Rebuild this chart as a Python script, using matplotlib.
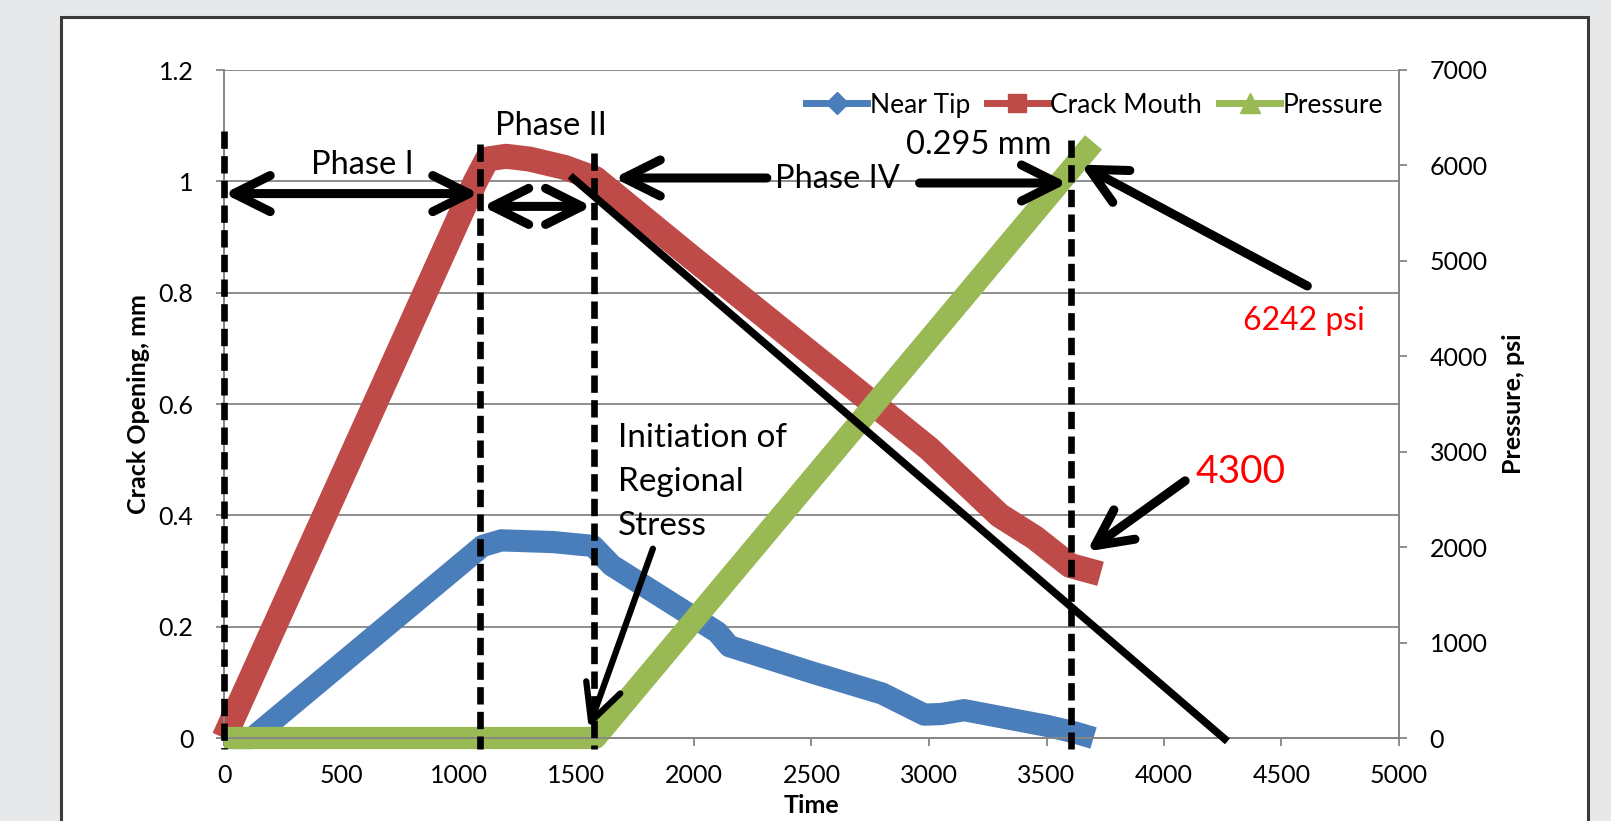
import matplotlib
matplotlib.use("Agg")
import numpy as np
from matplotlib import pyplot as plt
from matplotlib.patches import Rectangle

plt.rcParams["font.family"] = ["Lato", "DejaVu Sans"]

# data
time_tip = [0, 120, 1100, 1180, 1400, 1570, 1650, 2100, 2150, 2500, 2800, 2980, 3050, 3150, 3500, 3620, 3700]
near_tip = [0.0, 0.0, 0.345, 0.355, 0.352, 0.345, 0.31, 0.19, 0.165, 0.118, 0.08, 0.042, 0.043, 0.05, 0.022, 0.01, 0.0]

time_mouth = [0, 1070, 1120, 1200, 1300, 1450, 1580, 2000, 2500, 3000, 3300, 3450, 3600, 3730]
crack_mouth = [0.0, 1.0, 1.04, 1.045, 1.04, 1.025, 1.005, 0.86, 0.69, 0.52, 0.40, 0.36, 0.31, 0.295]

time_p = [0, 1580, 3700]
pressure = [0, 0, 6242]

phase_marks = [0, 1090, 1575, 3605]
phase_tops = [1.09, 1.067, 1.05, 1.075]

x_ticks = list(range(0, 5001, 500))
y_ticks = [0, 0.2, 0.4, 0.6, 0.8, 1.0, 1.2]
y_ticklabels = ["0", "0.2", "0.4", "0.6", "0.8", "1", "1.2"]
p_ticks = list(range(0, 7001, 1000))

BLUE = "#4a7ebb"
RED = "#be4b48"
GREEN = "#98b954"
GRID = "#868686"

fig = plt.figure(figsize=(16.11, 8.21), dpi=100, facecolor="#e7e8ea")
fig.patches.append(Rectangle((61 / 1611, -0.05), (1588 - 61) / 1611, 1.05 - 17 / 821,
                             transform=fig.transFigure, facecolor="white",
                             edgecolor="#3a3a3a", linewidth=2.2, zorder=-5))

ax = fig.add_axes([224 / 1611, 1 - 738 / 821, 1175 / 1611, 668 / 821])
ax.set_facecolor("none")
ax2 = ax.twinx()

lw = 16
l1, = ax.plot(time_tip, near_tip, color=BLUE, lw=lw, solid_capstyle="butt", solid_joinstyle="round", clip_on=False)
l2, = ax.plot(time_mouth, crack_mouth, color=RED, lw=lw + 2, solid_capstyle="butt", solid_joinstyle="round", clip_on=False)
l3, = ax2.plot(time_p, pressure, color=GREEN, lw=lw, solid_capstyle="butt", solid_joinstyle="round", clip_on=False)

ax.set_xlim(0, 5000)
ax.set_ylim(0, 1.2)
ax2.set_ylim(0, 7000)
ax.set_xticks(x_ticks)
ax.set_yticks(y_ticks)
ax.set_yticklabels(y_ticklabels)
ax2.set_yticks(p_ticks)

ax.grid(True, axis="y", color=GRID, lw=1.3)
ax.set_axisbelow(True)
for a in (ax, ax2):
    for s in a.spines.values():
        s.set_color(GRID)
        s.set_linewidth(1.3)
    a.spines["top"].set_visible(False)
ax.tick_params(axis="x", length=6, width=1.3, color=GRID, labelsize=18, pad=13)
ax.tick_params(axis="y", length=6, width=1.3, color=GRID, labelsize=18, pad=16)
ax2.tick_params(axis="y", length=6, width=1.3, color=GRID, labelsize=18, pad=16)

ax.set_xlabel("Time", fontsize=18, fontweight="bold", labelpad=5)
ax.set_ylabel("Crack Opening, mm", fontsize=18, fontweight="bold", labelpad=6)
ax2.set_ylabel("Pressure, psi", fontsize=18, fontweight="bold", labelpad=10)

# legend
h1, = ax.plot([], [], color=BLUE, lw=5, marker="D", ms=11)
h2, = ax.plot([], [], color=RED, lw=5, marker="s", ms=13)
h3, = ax.plot([], [], color=GREEN, lw=5, marker="^", ms=14)
leg = ax2.legend([h1, h2, h3], ["Near Tip", "Crack Mouth", "Pressure"], ncol=3, frameon=False,
                 fontsize=19, loc="upper right", bbox_to_anchor=(1.0, 0.99),
                 handlelength=2.3, handletextpad=0.1, columnspacing=0.65, borderaxespad=0.2)

T = ax.transData
# dashed phase lines
for xm, top in zip(phase_marks, phase_tops):
    ax2.plot([xm, xm], [top, -0.02], transform=T, color="black", lw=4.8,
             dashes=[2.6, 1.1], clip_on=False, zorder=5)

def arrow(tail, tip, style="->", lw=6.5, hl=1.3, hw=0.65):
    ax2.annotate("", xy=tip, xytext=tail, xycoords=T, textcoords=T,
                 arrowprops=dict(arrowstyle=f"{style}, head_length={hl}, head_width={hw}",
                                 lw=lw, color="black", shrinkA=0, shrinkB=0,
                                 mutation_scale=20, capstyle="round", joinstyle="round"),
                 annotation_clip=False, zorder=6)

arrow((0, 0.978), (1085, 0.978), style="<->")
arrow((1100, 0.955), (1565, 0.955), style="<->")
arrow((2310, 1.006), (1660, 1.006))
arrow((2960, 0.997), (3590, 0.997))
arrow((4610, 0.812), (3645, 1.03))
arrow((4090, 0.462), (3672, 0.335))
arrow((1825, 0.34), (1552, 0.018), lw=4.5)

# black trend line
ax2.plot([1473, 4270], [1.01, -0.006], transform=T, color="black", lw=5.5,
         solid_capstyle="butt", clip_on=False, zorder=5)

txt = dict(transform=T, ha="center", va="center", zorder=7)
ax2.text(590, 1.03, "Phase I", fontsize=23.5, **txt)
ax2.text(1390, 1.10, "Phase II", fontsize=23.5, **txt)
ax2.text(2610, 1.005, "Phase IV", fontsize=23.5, **txt)
ax2.text(3212, 1.065, "0.295 mm", fontsize=23.5, **txt)
ax2.text(4595, 0.75, "6242 psi", fontsize=23, color="red", **txt)
ax2.text(4325, 0.478, "4300", fontsize=28, color="red", **txt)
ax2.text(1678, 0.566, "Initiation of\nRegional\nStress", transform=T, ha="left", va="top",
         fontsize=24, linespacing=1.58, zorder=7)

fig.savefig("out.png", dpi=100, facecolor=fig.get_facecolor())
